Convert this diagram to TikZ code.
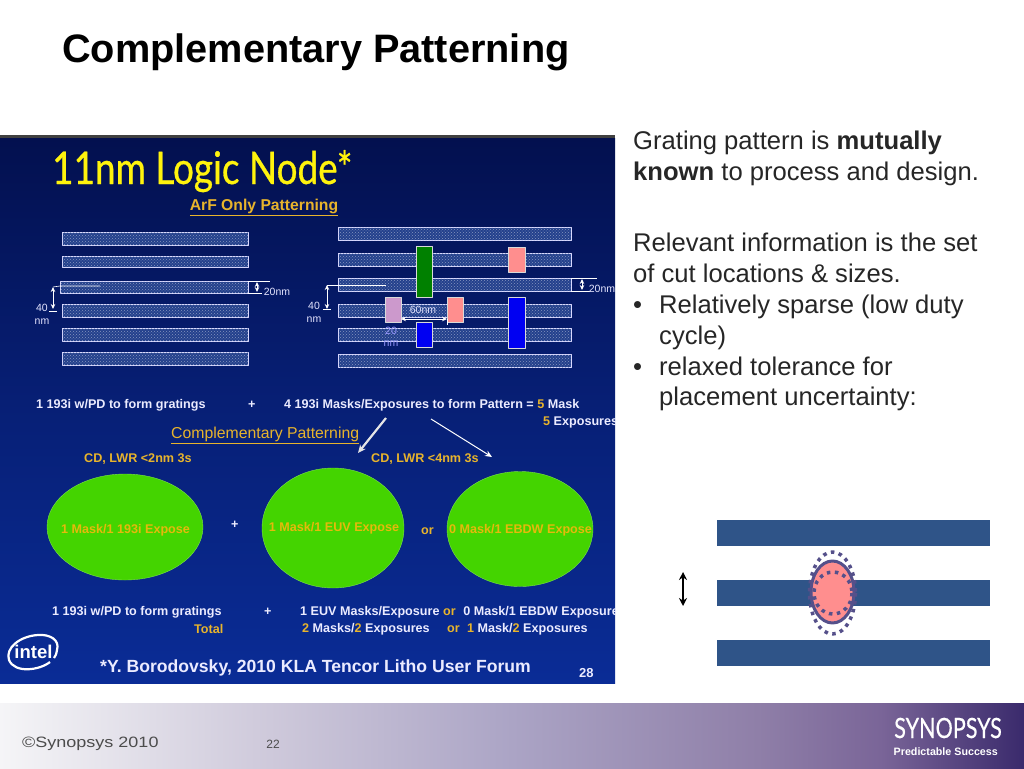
\documentclass[tikz,border=0pt]{standalone}
\usepackage{fontspec}
\setmainfont{Liberation Sans}
\newfontfamily\headfont[FakeStretch=0.82,FakeBold=0.6]{Lato}
\newfontfamily\logofont[FakeStretch=0.77,FakeBold=0.4]{Lato}
\newfontfamily\widefont[FakeStretch=1.2]{Liberation Sans}
\usetikzlibrary{shapes.geometric,arrows.meta,patterns}
\definecolor{slideTop}{HTML}{03104F}
\definecolor{slideBot}{HTML}{0A2C96}
\definecolor{hatch}{HTML}{23408C}
\definecolor{amber}{HTML}{E8B42C}
\definecolor{ovalGreen}{HTML}{44D400}
\definecolor{ovalText}{HTML}{E5B90C}
\definecolor{trackBlue}{HTML}{2F5488}
\definecolor{cutEdge}{HTML}{55508A}
\definecolor{cutPink}{HTML}{FF8E8E}
\definecolor{footA}{HTML}{F5F5F7}
\definecolor{footB}{HTML}{D0CBDC}
\definecolor{footC}{HTML}{ABA4C5}
\definecolor{footD}{HTML}{8F7FA8}
\definecolor{footE}{HTML}{7A6598}
\definecolor{footF}{HTML}{3A2A6C}
\pgfdeclarehorizontalshading{footshade}{100bp}{
 color(0bp)=(footA);
 color(25bp)=(footA);
 color(37.5bp)=(footB);
 color(50bp)=(footC);
 color(62bp)=(footD);
 color(68bp)=(footE);
 color(75bp)=(footF);
 color(100bp)=(footF)}
\newcommand{\hl}[1]{\textcolor{amber}{#1}}
\tikzset{
	bar/.style={draw=white!85!blue, line width=0.7pt, fill=hatch, postaction={pattern=crosshatch dots, pattern color=white!45!hatch}},
	cut/.style={draw=white!70!gray, line width=0.5pt},
	oval/.style={ellipse, fill=ovalGreen, draw=ovalGreen!70!white, line width=0.4pt, inner sep=0pt},
	ovaltxt/.style={font=\bfseries\fontsize{12.6}{14}\selectfont, text=ovalText},
	wht/.style={font=\bfseries\fontsize{12.6}{14}\selectfont, text=white!92!blue, anchor=west, inner sep=0pt},
	amb/.style={font=\bfseries\fontsize{12.6}{14}\selectfont, text=amber, anchor=west, inner sep=0pt},
	dim/.style={font=\fontsize{10.5}{12}\selectfont, text=white!90!blue, inner sep=0pt},
	body/.style={font=\fontsize{25.6}{30}\selectfont, text=black!85, anchor=base west, inner sep=0pt},
	track/.style={fill=trackBlue},
	dimarrow/.style={white, line width=0.8pt, {Stealth[length=5pt,width=4.5pt]}-{Stealth[length=5pt,width=4.5pt]}},
}
\begin{document}
\begin{tikzpicture}[x=1pt,y=-1pt, line join=round, >=stealth]
	\useasboundingbox (0,0) rectangle (1024,768);
	\fill[white] (0,0) rectangle (1024,768);
	\node[anchor=base west, inner sep=0pt, font=\bfseries\fontsize{39.7}{44}\selectfont] (title) at (62,63) {Complementary Patterning};
	% panel
	\fill[black!75] (0,135) rectangle (615,138);
	\shade[top color=slideTop, bottom color=slideBot, middle color=slideBot!55!slideTop] (0,138) rectangle (615,683);
	\begin{scope}
	\clip (0,138) rectangle (615,683);
	\node[anchor=base west, inner sep=0pt, text=yellow!95!white, font=\headfont\fontsize{45}{50}\selectfont] (head) at (52,184) {11nm Logic Node*};
	\node[amb, anchor=center, font=\bfseries\fontsize{15.7}{18}\selectfont] (arf) at (264,207) {\underline{ArF Only Patterning}};
	% left gratings
	\foreach \y/\h in {232/13,256/11,304/13,328/13,352/13}{
		\draw[bar] (62,\y) rectangle (248,\y+\h);}
	\draw[bar] (60,281) rectangle (248,293);
	% right gratings
	\foreach \y in {227,253,278,304,328,354}{
		\draw[bar] (338,\y) rectangle (571,\y+13);}
	% cuts
	\draw[cut,fill=green!50!black] (416,246) rectangle (432,297);
	\draw[cut,fill=cutPink] (508,247) rectangle (525,272);
	\draw[cut,fill=violet!40!white] (385,297) rectangle (401,322);
	\draw[cut,fill=cutPink] (447,297) rectangle (463,322);
	\draw[cut,fill=blue!95!black] (416,322) rectangle (432,347);
	\draw[cut,fill=blue!95!black] (508,297) rectangle (525,348);
	% dimensions, left
	\coordinate (la) at (53,287); \coordinate (lb) at (53,309);
	\coordinate (lc) at (60,286); \coordinate (ld) at (100,286);
	\draw[dimarrow] (la) -- (lb);
	\draw[white,line width=0.6pt] (la) -- (lc) -- (ld);
	\draw[white,line width=0.6pt] (49,311) -- (57,311);
	\draw[white,line width=0.6pt] (248,281) -- (270,281) (248,293) -- (262,293);
	\draw[dimarrow] (257,282) -- (257,292);
	\node[dim] (fortyL) at (42,308) {40};
	\node[dim] (nmL) at (42,322) {nm};
	\node[dim] (twentyL) at (277,292) {20nm};
	% dimensions, right
	\coordinate (ra) at (327,285); \coordinate (rb) at (327,309);
	\coordinate (rc) at (386,285);
	\draw[dimarrow] (ra) -- (rb);
	\draw[white,line width=0.6pt] (ra) -- (rc);
	\draw[white,line width=0.6pt] (323,309) -- (331,309);
	\draw[white,line width=0.6pt] (571,278) -- (597,278) (571,291) -- (590,291);
	\draw[dimarrow] (582,279) -- (582,290);
	\node[dim] (fortyR) at (314,306) {40};
	\node[dim] (nmR) at (314,320) {nm};
	\node[dim] (twentyR) at (602,289) {20nm};
	\coordinate (wa) at (401,319); \coordinate (wb) at (447,319);
	\draw[dimarrow] (wa) -- (wb);
	\draw[white,line width=0.5pt] (447,319) -- (447,325);
	\node[dim] (sixty) at (423,310) {60nm};
	\node[dim,text=white!60!blue] (twentyC) at (391,331) {20};
	\node[dim,text=white!60!blue] (nmC) at (391,344) {nm};
	% patterning lines
	\node[wht] (gratA) at (36,405) {1 193i w/PD to form gratings};
	\node[wht] (plusA) at (248,405) {+};
	\node[wht] (maskA) at (284,405) {4 193i Masks/Exposures to form Pattern = \hl{5} Mask};
	\node[wht] (maskB) at (543,422) {\hl{5} Exposures};
	\node[amb, font=\fontsize{15.8}{18}\selectfont] (comp) at (171,435) {\underline{Complementary Patterning}};
	\node[amb] (cdA) at (84,459) {CD, LWR <2nm 3s};
	\node[amb] (cdB) at (371,459) {CD, LWR <4nm 3s};
	\coordinate (aa) at (386,418); \coordinate (ab) at (358,453);
	\coordinate (ac) at (431,419); \coordinate (ad) at (492,457);
	\draw[white!80!gray,line width=2.2pt,-{Stealth[length=8pt,width=7pt]}] (aa) -- (ab);
	\draw[white,line width=1pt,-{Stealth[length=7pt,width=6pt]}] (ac) -- (ad);
	% ovals
	\node[oval, minimum width=156pt, minimum height=106pt] (ovalA) at (125,527) {};
	\node[oval, minimum width=142pt, minimum height=120pt] (ovalB) at (333,528) {};
	\node[oval, minimum width=146pt, minimum height=115pt] (ovalC) at (520,529) {};
	\node[ovaltxt] (txtA) at (125.5,530) {1 Mask/1 193i Expose};
	\node[ovaltxt] (txtB) at (334,528) {1 Mask/1 EUV Expose};
	\node[ovaltxt] (txtC) at (520.5,530) {0 Mask/1 EBDW Expose};
	\node[wht] (plusB) at (231,525) {+};
	\node[amb] (orA) at (421,531) {or};
	% totals
	\node[wht] (gratB) at (52,612) {1 193i w/PD to form gratings};
	\node[wht] (plusC) at (264,612) {+};
	\node[wht] (euvA) at (300,612) {1 EUV Masks/Exposure \hl{or}\,\, 0 Mask/1 EBDW Exposure};
	\node[amb] (total) at (194,629) {Total};
	\node[wht] (euvB) at (302,629) {\hl{2} Masks/\hl{2} Exposures};
	\node[amb] (orB) at (447,629) {or};
	\node[wht] (euvC) at (467,629) {\hl{1} Mask/\hl{2} Exposures};
	\node[wht, font=\bfseries\fontsize{17.6}{20}\selectfont] (cite) at (100,668) {*Y. Borodovsky, 2010 KLA Tencor Litho User Forum};
	\node[wht, font=\bfseries\fontsize{13}{15}\selectfont] (page) at (579,673) {28};
	% intel logo
	\node[text=white, inner sep=0pt, font=\bfseries\fontsize{18.5}{22}\selectfont] (intel) at (33.5,652) {intel};
	\draw[white,line width=2.2pt] (50,662) .. controls (40,670) and (15,674) .. (9,660) .. controls (5,648) and (20,636) .. (38,635) .. controls (50,634) and (60,640) .. (57,650) .. controls (56,655) .. (54,658);
	\end{scope}
	% right column
	\node[body] (l1) at (633,149.5) {Grating pattern is \textbf{mutually}};
	\node[body] (l2) at (633,180.5) {\textbf{known} to process and design.};
	\node[body] (l3) at (633,251.5) {Relevant information is the set};
	\node[body] (l4) at (633,282.5) {of cut locations \& sizes.};
	\node[body] (b1) at (633,313.5) {•};
	\node[body] (l5) at (659,313.5) {Relatively sparse (low duty};
	\node[body] (l6) at (659,344.5) {cycle)};
	\node[body] (b2) at (633,375.5) {•};
	\node[body] (l7) at (659,375.5) {relaxed tolerance for};
	\node[body] (l8) at (659,405.5) {placement uncertainty:};
	% tracks
	\foreach \y in {520,580,640}{
		\fill[track] (717,\y) rectangle (990,\y+26);}
	\draw[cutEdge,line width=3pt,fill=cutPink] (832.5,592) ellipse (21.5 and 31);
	\draw[cutEdge,line width=3.5pt,dash pattern=on 3.5pt off 4.5pt] (832.5,593) ellipse (23 and 41);
	\draw[cutEdge,line width=3.5pt,dash pattern=on 3.5pt off 4.5pt] (833,593) ellipse (19 and 21);
	\coordinate (ta) at (683,572); \coordinate (tb) at (683,606);
	\draw[black,line width=1.6pt,{Stealth[length=8pt,width=8pt]}-{Stealth[length=8pt,width=8pt]}] (ta) -- (tb);
	% footer
	\shade[shading=footshade] (0,703) rectangle (1024,768);
	\node[anchor=west, inner sep=0pt, text=black!70, font=\widefont\fontsize{15}{17}\selectfont] (copy) at (22,744) {©Synopsys 2010};
	\node[inner sep=0pt, text=black!70, font=\fontsize{12}{14}\selectfont] (num) at (273,744) {22};
	\node[anchor=east, inner sep=0pt, text=white, font=\logofont\fontsize{28}{30}\selectfont] (logo) at (1002,728) {SYNOPSYS};
	\node[anchor=east, inner sep=0pt, text=white, font=\bfseries\fontsize{10.7}{12}\selectfont] (tag) at (998,752) {Predictable Success};
\end{tikzpicture}
\end{document}
